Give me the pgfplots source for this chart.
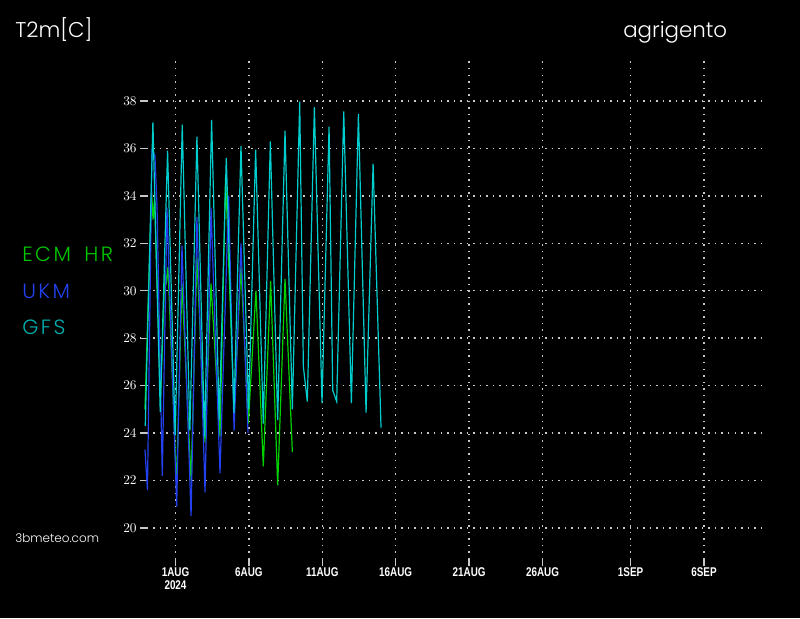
\documentclass[border=0pt]{standalone}
\usepackage{pgfplots}
\pgfplotsset{compat=1.18}
\usepackage{fontspec}
\setmainfont{Poppins Light}
\newfontfamily\tickfont{Liberation Sans}[FakeStretch=0.78]
\newfontfamily\legfont{Poppins Light}[LetterSpace=12]
\definecolor{ecm}{RGB}{0,210,0}
\definecolor{ecmtxt}{RGB}{0,200,0}
\definecolor{ukm}{RGB}{35,65,240}
\definecolor{gfs}{RGB}{0,205,205}
\definecolor{gfstxt}{RGB}{0,175,175}
\definecolor{gridc}{RGB}{200,200,200}
\begin{document}
\begin{tikzpicture}
\useasboundingbox (0,0) rectangle (600pt,463.5pt);
\fill[black] (0,0) rectangle (600pt,463.5pt);
\begin{axis}[
  at={(105pt,39pt)}, anchor=south west,
  scale only axis, width=466.5pt, height=381pt,
  xmin=-2.418, xmax=39.95, ymin=18.398, ymax=39.81,
  axis line style={draw=none},
  xtick={0,5,10,15,20,25,31,36},
  xticklabels={1AUG\\2024,6AUG,11AUG,16AUG,21AUG,26AUG,1SEP,6SEP},
  ytick={20,22,...,38},
  xtick pos=bottom, ytick pos=left,
  tick align=inside,
  major tick length=5.5pt,
  tick style={gridc, solid, line width=1pt},
  grid=major,
  major grid style={gridc, line width=1.1pt, dash pattern=on 1.1pt off 3.8pt},
  xticklabel style={white, align=center, font=\tickfont\bfseries\fontsize{9.5}{9.5}\selectfont, yshift=2pt},
  yticklabel style={white, font=\tickfont\bfseries\fontsize{10}{10}\selectfont, xshift=1pt},
  clip=false,
]
% ECM HR
\addplot[ecm, line width=0.9pt] coordinates {
(-2.08,25.0) (-1.63,34.2) (-1.53,33.0) (-1.43,33.9) (-1.02,25.5) (-0.72,30.8) (-0.61,30.4) (-0.51,31.0)
(0.07,21.8) (0.44,30.3) (1.06,22.0) (1.46,31.4) (2.01,23.6) (2.42,30.3) (3.03,23.85) (3.41,34.8)
(3.99,25.0) (4.46,31.0) (4.96,24.4) (5.48,30.0) (5.98,22.6) (6.48,30.4) (6.96,21.8) (7.46,30.5) (7.96,23.2)
};
% UKM
\addplot[ukm, line width=0.9pt] coordinates {
(-2.08,23.3) (-1.91,21.6) (-1.60,35.9) (-1.40,35.7) (-1.26,33.6) (-0.90,22.2) (-0.58,33.5)
(0.08,20.9) (0.44,31.9) (1.06,20.5) (1.46,33.1) (2.01,21.5) (2.42,33.5) (3.03,22.3) (3.62,34.0)
(3.99,24.1) (4.46,32.0) (4.94,24.0)
};
% GFS
\addplot[gfs, line width=0.9pt] coordinates {
(-2.06,24.3) (-1.54,37.1) (-1.04,24.9) (-0.54,35.9) (-0.02,23.9) (0.46,37.0) (0.98,24.1) (1.46,36.5)
(1.98,23.85) (2.46,37.2) (2.98,24.55) (3.46,35.6) (3.98,24.85) (4.46,36.1) (4.98,25.0) (5.46,35.95)
(5.98,24.4) (6.46,36.3) (6.96,24.55) (7.46,36.75) (7.96,25.0) (8.46,37.97) (8.71,26.8) (8.98,25.33)
(9.46,37.74) (9.98,25.26) (10.46,36.92) (10.71,25.8) (10.98,25.33) (11.46,37.56) (11.98,25.26)
(12.46,37.45) (12.98,24.86) (13.46,35.35) (14.0,24.23)
};
\end{axis}
\node[anchor=base west, white, font=\fontsize{16}{18}\selectfont, inner sep=0] at (11.25pt,435pt) {T2m[C]};
\node[anchor=base west, white, font=\fontsize{16}{18}\selectfont, inner sep=0] at (467.25pt,435pt) {agrigento};
\node[anchor=base west, ecmtxt, font=\legfont\fontsize{15.5}{17}\selectfont, inner sep=0] at (16.5pt,267pt) {ECM\hspace{4pt} HR};
\node[anchor=base west, ukm, font=\legfont\fontsize{15.5}{17}\selectfont, inner sep=0] at (16.5pt,239.25pt) {UKM};
\node[anchor=base west, gfstxt, font=\legfont\fontsize{15.5}{17}\selectfont, inner sep=0] at (16.5pt,212.25pt) {GFS};
\node[anchor=base west, white, font=\fontsize{9}{10}\selectfont, inner sep=0] at (11.25pt,56.25pt) {3bmeteo.com};
\end{tikzpicture}
\end{document}
